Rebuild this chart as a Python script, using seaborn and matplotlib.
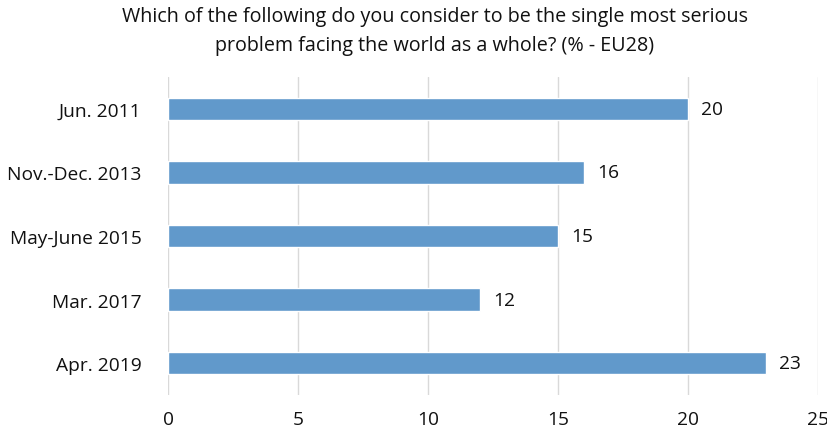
import matplotlib
matplotlib.use("Agg")
import matplotlib.pyplot as plt
import seaborn as sns
import pandas as pd

categories = ["Jun. 2011", "Nov.-Dec. 2013", "May-June 2015", "Mar. 2017", "Apr. 2019"]
values = [20, 16, 15, 12, 23]
x_ticks = [0, 5, 10, 15, 20, 25]
title = "Which of the following do you consider to be the single most serious\nproblem facing the world as a whole? (% - EU28)"

sns.set_theme(style="white")
plt.rcParams['font.family'] = ['Open Sans', 'DejaVu Sans']

df = pd.DataFrame({"period": categories, "value": values})

fig = plt.figure(figsize=(8.28, 4.35), dpi=100)
ax = fig.add_axes([0.2029, 0.0897, 0.785, 0.731])

sns.barplot(data=df, y="period", x="value", order=categories, color="#6199CB",
            width=0.35, ax=ax, saturation=1)

ax.set_xlim(0, 25)
ax.set_xticks(x_ticks)
ax.set_xticklabels([str(t) for t in x_ticks], fontsize=13.8, color="#111111")
ax.tick_params(axis="y", labelsize=13.8, labelcolor="#111111", length=0, pad=19)
ax.tick_params(axis="x", length=0, pad=11)
ax.set_xlabel("")
ax.set_ylabel("")
ax.grid(axis="x", color="#D9D9D9", linewidth=1)
ax.set_axisbelow(True)
for s in ax.spines.values():
    s.set_visible(False)

for i, v in enumerate(values):
    ax.text(v + 0.5, i, str(v), va="center", ha="left", fontsize=13.8, color="#111111")

fig.suptitle(title, x=0.525, y=0.983, fontsize=14.2, color="#111111", linespacing=1.6)

fig.savefig("out.png", dpi=100)
